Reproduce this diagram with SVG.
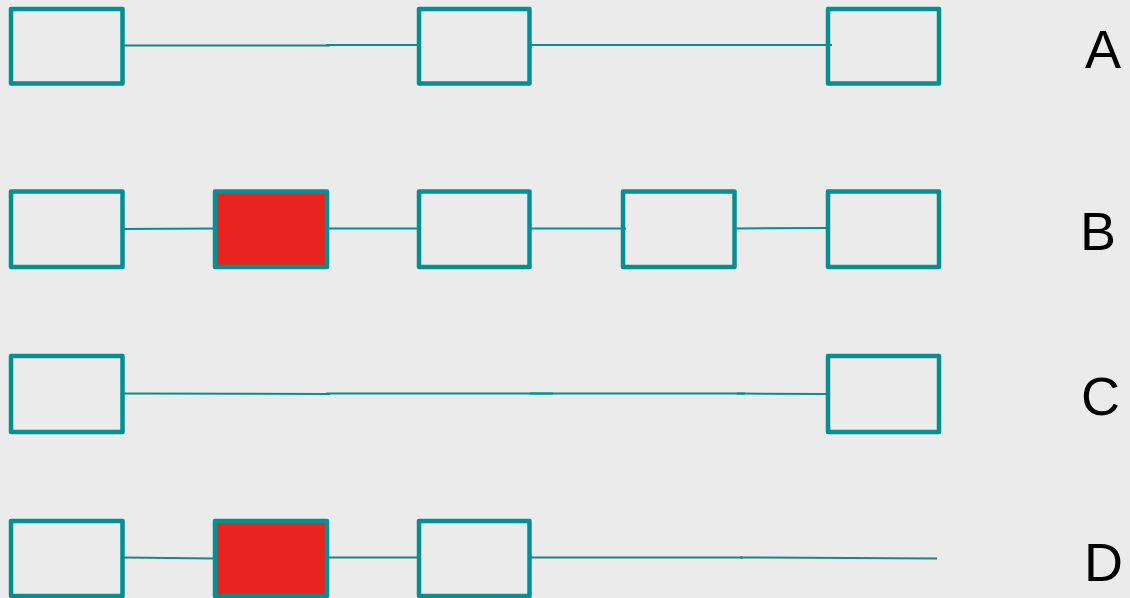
<svg xmlns="http://www.w3.org/2000/svg" width="1130" height="598" viewBox="0 0 1130 598">
<style>
.box{fill:none;stroke:#078e92;stroke-width:4.5;stroke-linejoin:round}
.red{fill:#e82320;stroke:#078e92;stroke-width:4.5;stroke-linejoin:round}
.ln{stroke:#078e92;stroke-width:2;fill:none}
.lbl{font-family:"Liberation Sans",Arial,sans-serif;font-size:54px;fill:#000}
</style>
<rect width="1130" height="598" fill="#ebebeb"/>
<g id="connectors">
<line class="ln" x1="122" y1="45.5" x2="330" y2="45.5"/>
<line class="ln" x1="326" y1="45" x2="421" y2="45"/>
<line class="ln" x1="529" y1="45" x2="743" y2="45"/>
<line class="ln" x1="740" y1="45" x2="832" y2="45"/>
<line class="ln" x1="122" y1="229" x2="215" y2="228.5"/>
<line class="ln" x1="327" y1="228.5" x2="421" y2="228.5"/>
<line class="ln" x1="529" y1="228.5" x2="626" y2="228.5"/>
<line class="ln" x1="735" y1="228.5" x2="828" y2="228"/>
<line class="ln" x1="122" y1="393.5" x2="330" y2="394"/>
<line class="ln" x1="326" y1="393.5" x2="553" y2="393.5"/>
<line class="ln" x1="530" y1="393.5" x2="745" y2="393.5"/>
<line class="ln" x1="737" y1="393.5" x2="828" y2="394"/>
<line class="ln" x1="122" y1="557.5" x2="215" y2="558.5"/>
<line class="ln" x1="327" y1="557.5" x2="421" y2="557.5"/>
<line class="ln" x1="529" y1="557.5" x2="743" y2="557.5"/>
<line class="ln" x1="740" y1="557.5" x2="937" y2="558.5"/>
</g>
<g id="A1"><rect class="box" x="11" y="9" width="111.5" height="74.5"/></g>
<g id="A2"><rect class="box" x="419" y="9" width="110.5" height="74.5"/></g>
<g id="A3"><rect class="box" x="828" y="9" width="111" height="74.5"/></g>
<g id="B1"><rect class="box" x="11" y="191.5" width="111.5" height="75.5"/></g>
<g id="B2"><rect class="red" x="215" y="191.5" width="112" height="75.5"/></g>
<g id="B3"><rect class="box" x="419" y="191.5" width="110.5" height="75.5"/></g>
<g id="B4"><rect class="box" x="623" y="191.5" width="111.5" height="75.5"/></g>
<g id="B5"><rect class="box" x="828" y="191.5" width="111" height="75.5"/></g>
<g id="C1"><rect class="box" x="11" y="356" width="111.5" height="76"/></g>
<g id="C2"><rect class="box" x="828" y="356" width="111" height="76"/></g>
<g id="D1"><rect class="box" x="11" y="521" width="111.5" height="75"/></g>
<g id="D2"><rect class="red" x="215" y="521" width="112" height="75"/></g>
<g id="D3"><rect class="box" x="419" y="521" width="110.5" height="75"/></g>
<g id="labels">
<text class="lbl" x="1085" y="68">A</text>
<text class="lbl" x="1080" y="250">B</text>
<text class="lbl" x="1081" y="415">C</text>
<text class="lbl" x="1084" y="581">D</text>
</g>
</svg>
